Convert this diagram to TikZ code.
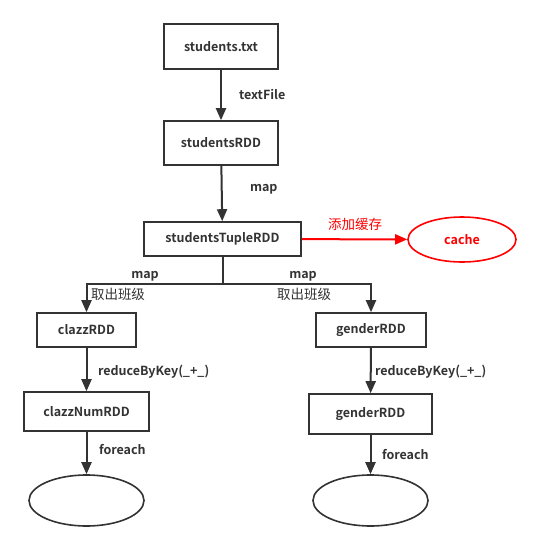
\documentclass[tikz,border=0pt]{standalone}
\usepackage{fontspec}
\setmainfont{Noto Sans CJK SC}[BoldFont={Noto Sans CJK SC Bold}]
\usetikzlibrary{shapes.geometric,arrows.meta}
\definecolor{ink}{HTML}{333333}
\definecolor{hot}{HTML}{FF0000}

\begin{document}
\begin{tikzpicture}[x=1pt,y=-1pt, line width=2pt, draw=ink, text=ink,
    every node/.style={font=\fontsize{12.5}{14}\selectfont\bfseries},
    rdd/.style={draw, rectangle, line width=1.6pt, inner sep=0pt},
    sink/.style={draw, ellipse, line width=1.6pt, minimum width=115pt, minimum height=51pt},
    lbl/.style={anchor=west, inner sep=0pt},
    cn/.style={font=\fontsize{13.5}{15}\selectfont, inner sep=0pt},
    >={Triangle[width=10pt,length=12pt]}]
    \useasboundingbox (0,0) rectangle (540,550);
    % main chain
    \node[rdd, minimum width=114pt, minimum height=45pt] (txt) at (221,46.5) {students.txt};
    \node[rdd, minimum width=114pt, minimum height=44pt] (srdd) at (221,143) {studentsRDD};
    \node[rdd, minimum width=157pt, minimum height=34pt] (tuple) at (222.5,239) {studentsTupleRDD};
    \node[draw=hot, text=hot, ellipse, line width=1.6pt, minimum width=108pt, minimum height=45pt] (cache) at (462,239.5) {cache};
    \draw[->] (txt) -- (srdd);
    \draw[->] (srdd) -- (tuple);
    \node[lbl] (l1) at (238,95) {textFile};
    \node[lbl] (l2) at (249,189) {map};
    \draw[->, hot] (tuple) -- (cache);
    \node[cn, text=hot] (l3) at (355,224) {添加缓存};
    % branch by class / gender
    \node[rdd, minimum width=99pt, minimum height=34pt] (clazz) at (86.5,330) {clazzRDD};
    \node[rdd, minimum width=125pt, minimum height=39pt] (cnum) at (86.5,411.5) {clazzNumRDD};
    \node[sink] (out1) at (86.5,500.5) {};
    \node[rdd, minimum width=110pt, minimum height=34pt] (gen) at (371,330) {genderRDD};
    \node[rdd, minimum width=123pt, minimum height=40pt] (gnum) at (370.5,414) {genderRDD};
    \node[sink] (out2) at (370.5,500.5) {};
    \coordinate (split) at (222.5,284);
    \draw (tuple) -- (split);
    \draw[->] (split) -| (clazz);
    \draw[->] (split) -| (gen);
    \node (m1) at (145,276) {map};
    \node[cn] (c1) at (118,294.5) {取出班级};
    \node (m2) at (303,276) {map};
    \node[cn] (c2) at (304,294.5) {取出班级};
    \draw[->] (clazz) -- (cnum);
    \draw[->] (cnum) -- (out1);
    \draw[->] (gen) -- (gnum);
    \draw[->] (gnum) -- (out2);
    \node[lbl] (r1) at (97,372) {reduceByKey(\_+\_)};
    \node[lbl] (f1) at (98,450) {foreach};
    \node[lbl] (r2) at (374,372) {reduceByKey(\_+\_)};
    \node[lbl] (f2) at (381,455) {foreach};
\end{tikzpicture}
\end{document}
